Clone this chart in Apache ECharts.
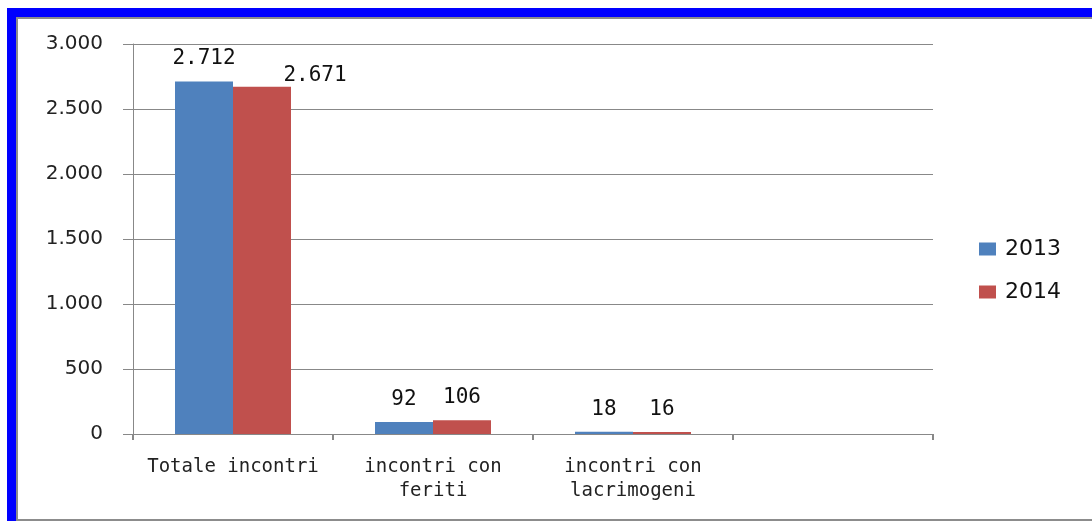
<!DOCTYPE html>
<html>
<head>
<meta charset="utf-8">
<script src="https://cdn.jsdelivr.net/npm/echarts@6/dist/echarts.min.js"></script>
<style>
html,body{margin:0;padding:0;background:#fff;overflow:hidden;}
#frame{position:absolute;left:7px;top:8px;width:1100px;height:511px;border-top:9px solid #0000ff;border-left:9px solid #0000ff;box-sizing:content-box;}
#inner{position:absolute;left:0;top:0;width:1100px;height:500px;border-top:2px solid #8c8c8c;border-left:2px solid #8c8c8c;border-bottom:2px solid #8c8c8c;}
#chart{position:absolute;left:0;top:0;width:1092px;height:521px;}
</style>
</head>
<body>
<div id="frame"><div id="inner"></div></div>
<div id="chart"></div>
<script>
const categories = ['Totale incontri', 'incontri con\nferiti', 'incontri con\nlacrimogeni', ''];
const seriesNames = ['2013', '2014'];
const values2013 = [2712, 92, 18, null];
const values2014 = [2671, 106, 16, null];
const yTicks = [0, 500, 1000, 1500, 2000, 2500, 3000];

function fmt(v) {
  return String(v).replace(/\B(?=(\d{3})+(?!\d))/g, '.');
}

const chart = echarts.init(document.getElementById('chart'), null, {renderer: 'canvas'});
const labelBase = {
  show: true, position: 'top', distance: 12,
  fontFamily: 'DejaVu Sans Mono', fontSize: 21, color: '#111',
  formatter: p => fmt(p.value)
};
const data2014 = values2014.map((v, i) => i === 0 ? {value: v, label: {offset: [53, 11]}} : v);

chart.setOption({
  animation: false,
  backgroundColor: 'transparent',
  color: ['#4F81BD', '#C0504D'],
  grid: {left: 133, right: 159, top: 44, bottom: 87, containLabel: false},
  legend: {
    orient: 'vertical', left: 974, top: 233,
    itemWidth: 17, itemHeight: 13, itemGap: 21,
    icon: 'rect',
    textStyle: {fontFamily: 'DejaVu Sans', fontSize: 22, color: '#111', padding: [0, 0, 0, 4]},
    data: seriesNames
  },
  xAxis: {
    type: 'category',
    data: categories,
    axisLine: {lineStyle: {color: '#888', width: 1}},
    axisTick: {show: true, length: 6, alignWithLabel: false, lineStyle: {color: '#888', width: 2}},
    axisLabel: {
      interval: 0, margin: 21, fontFamily: 'DejaVu Sans Mono', fontSize: 19,
      color: '#222', lineHeight: 24
    }
  },
  yAxis: {
    type: 'value', min: yTicks[0], max: yTicks[yTicks.length - 1], interval: 500,
    axisLine: {show: true, lineStyle: {color: '#888', width: 1}},
    axisTick: {show: true, length: 10, lineStyle: {color: '#888'}},
    splitLine: {show: true, lineStyle: {color: '#888', width: 1}},
    axisLabel: {
      margin: 30, fontFamily: 'DejaVu Sans', fontSize: 20, color: '#222',
      formatter: v => fmt(v)
    }
  },
  series: [
    {name: seriesNames[0], type: 'bar', data: values2013, barWidth: 58, barGap: '0%', label: labelBase},
    {name: seriesNames[1], type: 'bar', data: data2014, barWidth: 58, barGap: '0%', label: labelBase}
  ]
});
</script>
</body>
</html>
